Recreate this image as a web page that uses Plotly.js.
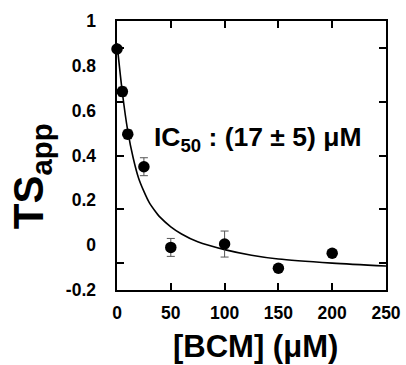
<!DOCTYPE html>
<html>
<head>
<meta charset="utf-8">
<script src="https://cdn.plot.ly/plotly-3.0.1.min.js"></script>
<style>html,body{margin:0;padding:0;background:#fff;}#chart{width:406px;height:365px;}</style>
</head>
<body>
<div id="chart"></div>
<script>
// measured data
const bcm = [0, 5, 10, 25, 50, 100, 150, 200];
const tsApp = [0.875, 0.685, 0.495, 0.35, -0.01, 0.005, -0.103, -0.036];
const tsErr = [0.0, 0.02, 0.02, 0.04, 0.04, 0.058, 0.0, 0.0];
// fitted curve
const fitX = [0, 5, 10, 15, 20, 25, 30, 35, 40, 50, 60, 75, 100, 125, 150, 200, 250];
const fitY = [0.90, 0.68, 0.51, 0.39, 0.30, 0.24, 0.19, 0.155, 0.125, 0.082, 0.05, 0.015, -0.02, -0.045, -0.062, -0.08, -0.093];
// axis ticks / labels
const yLabelVals = [-0.2, 0, 0.2, 0.4, 0.6, 0.8, 1];
const yLabelText = ['-0.2', '0', '0.2', '0.4', '0.6', '0.8', '1'];
const yTickMarks = [-0.08, 0.16, 0.40, 0.64, 0.88];
const xTickVals = [0, 50, 100, 150, 200, 250];

const FONT = 'Liberation Sans, Arial, sans-serif';

const traces = [
  {
    x: fitX, y: fitY, type: 'scatter', mode: 'lines',
    line: {color: '#000', width: 1.6, shape: 'spline', smoothing: 0.8},
    hoverinfo: 'skip'
  },
  {
    x: bcm, y: tsApp, type: 'scatter', mode: 'markers',
    marker: {color: '#000', size: 11.5},
    error_y: {type: 'data', array: tsErr, visible: true, color: '#555', thickness: 1, width: 4},
    cliponaxis: false
  },
  {
    x: [0], y: [0], yaxis: 'y2', type: 'scatter', mode: 'markers',
    marker: {opacity: 0}, hoverinfo: 'skip', showlegend: false
  }
];

const layout = {
  width: 406, height: 365,
  margin: {l: 117, r: 20, t: 21, b: 75},
  paper_bgcolor: '#fff', plot_bgcolor: '#fff',
  showlegend: false,
  font: {family: FONT, color: '#000'},
  xaxis: {
    range: [0, 250], tickvals: xTickVals, ticks: 'inside', ticklen: 7, tickwidth: 2,
    tickcolor: '#000', showline: true, linecolor: '#000', linewidth: 2, mirror: 'ticks',
    showgrid: false, zeroline: false,
    tickfont: {family: FONT, size: 17.5, weight: 'bold', color: '#000'},
    ticklabelstandoff: 6
  },
  yaxis: {
    range: [-0.2, 1], tickvals: yTickMarks, ticks: 'inside', ticklen: 7, tickwidth: 2,
    tickcolor: '#000', showline: true, linecolor: '#000', linewidth: 2, mirror: 'ticks',
    showgrid: false, zeroline: false, showticklabels: false
  },
  yaxis2: {
    overlaying: 'y', side: 'left', range: [-0.2, 1],
    tickvals: yLabelVals, ticktext: yLabelText, ticks: '',
    showline: false, showgrid: false, zeroline: false,
    tickfont: {family: FONT, size: 17.5, weight: 'bold', color: '#000'},
    ticklabelstandoff: 20
  },
  annotations: [
    {
      xref: 'paper', yref: 'paper', x: 0.522, y: 0.56, xanchor: 'center', yanchor: 'middle',
      text: '<b>IC<sub>50</sub> : (17 ± 5) μM</b>', showarrow: false,
      font: {family: FONT, size: 26.5, color: '#000'}
    },
    {
      xref: 'paper', yref: 'paper', x: 0.514, y: -0.21, xanchor: 'center', yanchor: 'middle',
      text: '<b>[BCM] (μM)</b>', showarrow: false,
      font: {family: FONT, size: 31, color: '#000'}
    },
    {
      xref: 'paper', yref: 'paper', x: -0.315, y: 0.424, xanchor: 'center', yanchor: 'middle',
      text: '<b>TS<sub>app</sub></b>', showarrow: false, textangle: -90,
      font: {family: FONT, size: 42, color: '#000'}
    }
  ]
};

Plotly.newPlot('chart', traces, layout, {displayModeBar: false, staticPlot: true});
</script>
</body>
</html>
